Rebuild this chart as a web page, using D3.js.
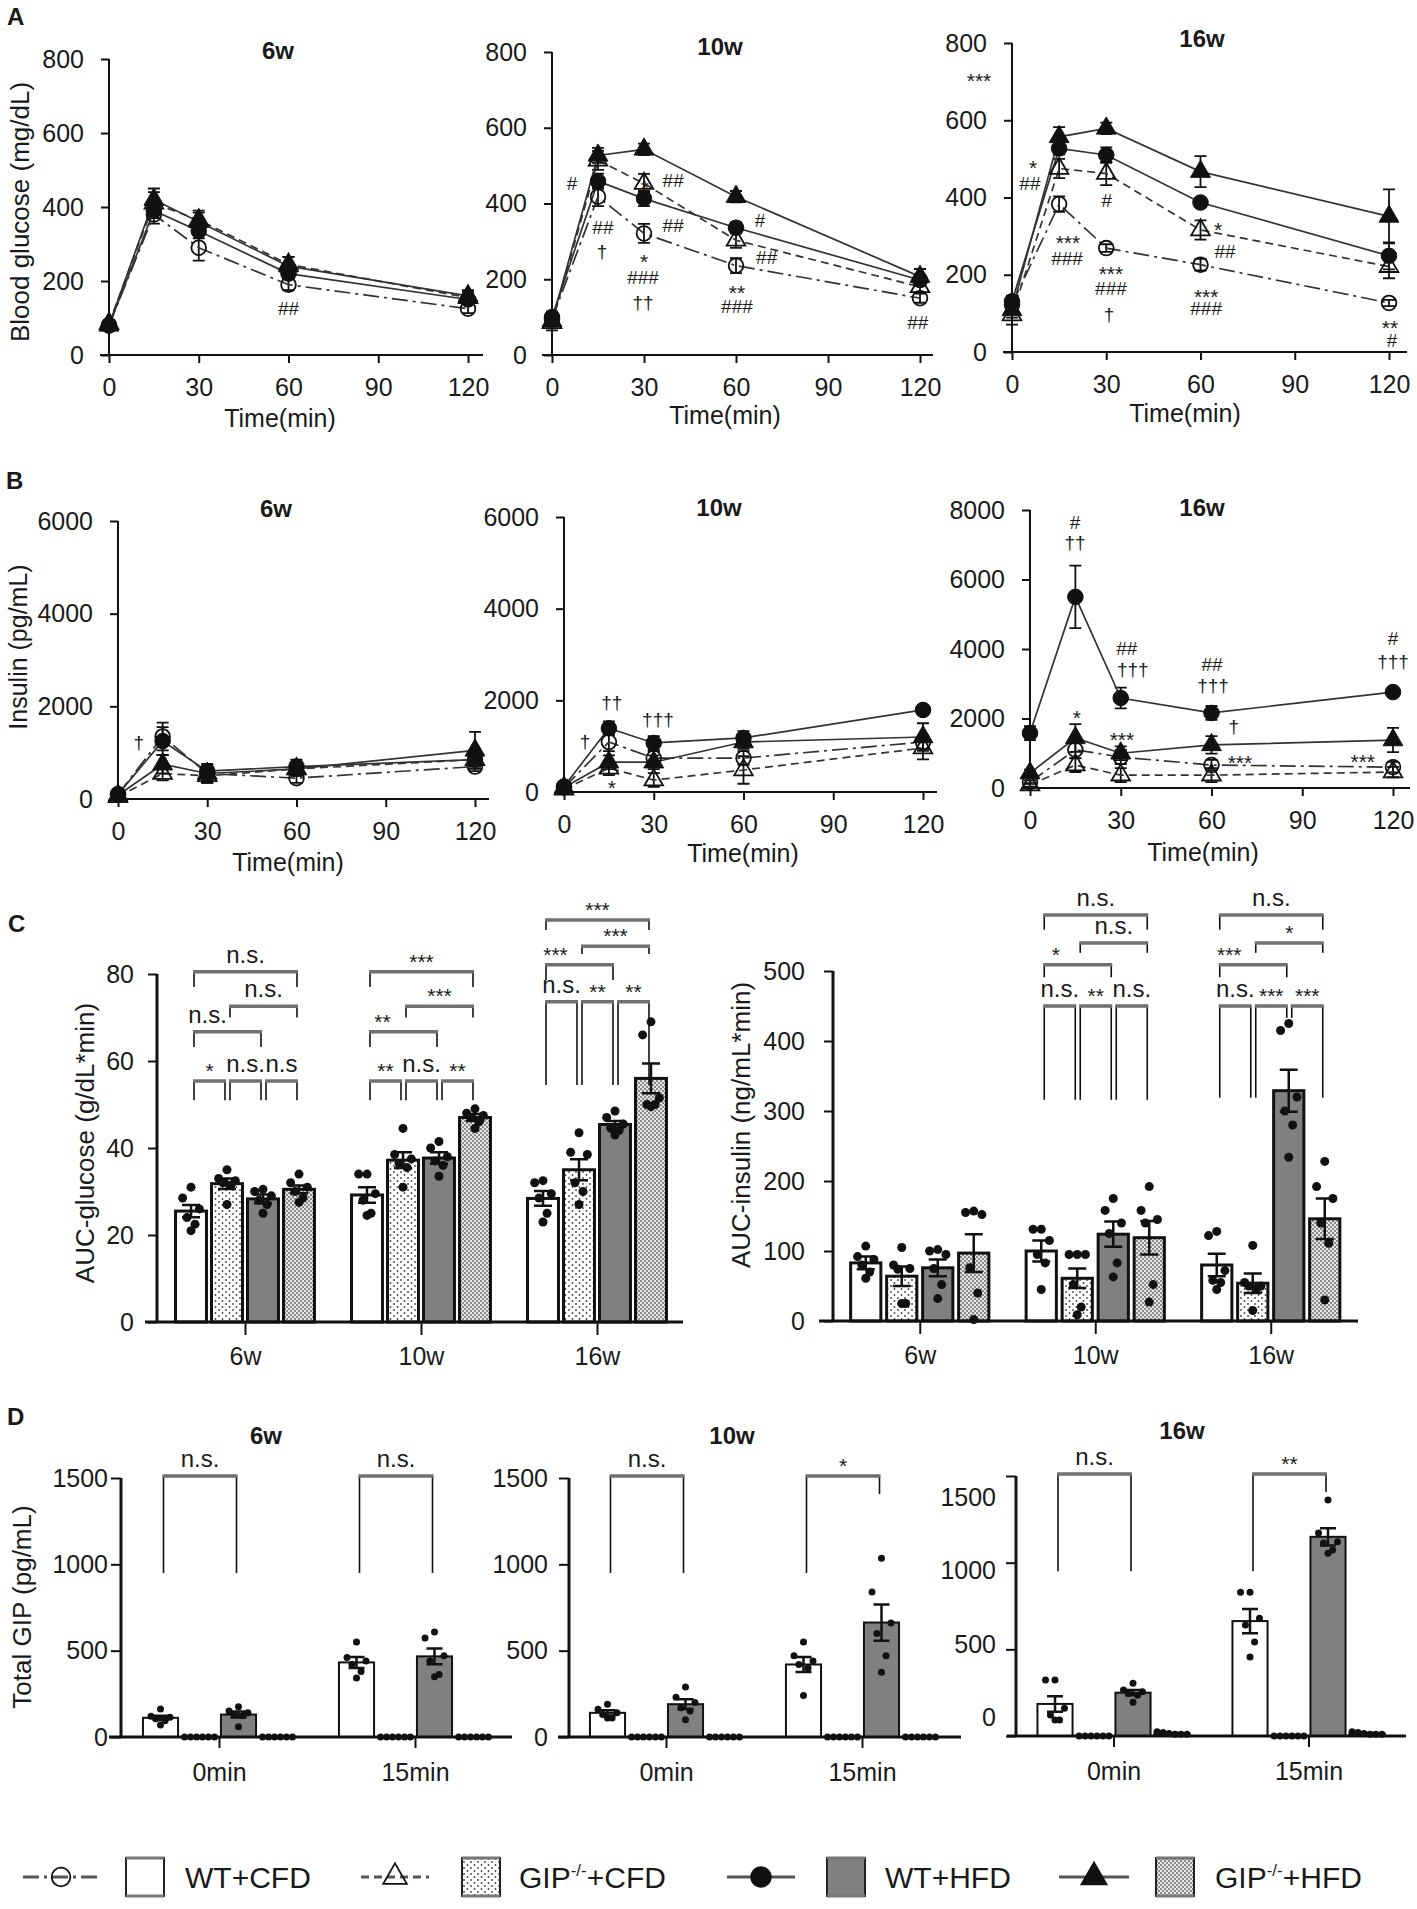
<!DOCTYPE html>
<html>
<head>
<meta charset="utf-8">
<script src="https://cdn.jsdelivr.net/npm/d3@7"></script>
<style>
  body { margin: 0; background: #fff; }
  svg { display: block; }
  text { font-family: "Liberation Sans", Arial, sans-serif; fill: #1a1a1a; }
</style>
</head>
<body>
<svg id="fig" width="1417" height="1909"></svg>
<script>
// ---- data ----
const times = [0, 15, 30, 60, 120];
const timeTicks = [0, 30, 60, 90, 120];
const groups = ["WT+CFD", "GIP-/-+CFD", "WT+HFD", "GIP-/-+HFD"];
const weeks = ["6w", "10w", "16w"];
const gipTimes = ["0min", "15min"];

// A: blood glucose (mg/dL), rows follow groups
const glu6 = [[80,380,290,190,125],[85,410,365,245,155],[80,390,335,220,150],[80,420,360,240,160]];
const glu6Sem = [[10,25,35,15,12],[10,30,25,20,15],[10,20,20,15,10],[10,30,25,25,15]];
const glu10 = [[95,418,321,236,150],[85,514,453,303,180],[100,459,413,336,198],[90,527,543,418,207]];
const glu10Sem = [[15,25,25,20,12],[20,25,25,20,15],[15,20,20,15,15],[15,20,15,15,20]];
const glu16 = [[123,383,269,226,127],[96,475,462,316,221],[131,527,510,387,249],[109,557,579,467,351]];
const glu16Sem = [[15,20,10,15,8],[25,25,30,25,30],[15,15,20,10,35],[20,25,15,40,70]];

// B: insulin (pg/mL)
const ins6 = [[100,1350,550,450,700],[50,550,500,650,850],[100,1250,600,700,850],[80,750,550,650,1050]];
const ins6Sem = [[50,300,200,100,100],[50,150,150,150,150],[50,300,150,150,150],[50,200,150,150,400]];
const ins10 = [[100,1090,740,740,1090],[60,520,260,480,960],[120,1390,1070,1180,1790],[100,650,650,1090,1200]];
const ins10Sem = [[50,200,150,150,150],[50,150,150,300,250],[50,150,150,150,100],[50,150,150,150,300]];
const ins16 = [[170,1100,890,660,600],[86,660,370,370,460],[1580,5500,2590,2160,2760],[430,1440,1000,1240,1380]];
const ins16Sem = [[50,250,200,150,150],[50,200,200,200,150],[200,900,300,200,100],[100,400,200,250,350]];

// significance marks: [time, value, text]
const gluNotes6 = [[60,127,"##"]];
const gluNotes10 = [[6.5,454,"#"],[39.5,462,"##"],[30.3,454,"*"],[16.6,338,"##"],[16.3,272,"†"],
  [39.5,343,"##"],[30,259,"*"],[29.7,206,"###"],[29.7,137,"††"],[67.8,356,"#"],[70,259,"##"],
  [60.3,177,"**"],[60.3,129,"###"],[119.3,87,"##"]];
const gluNotes16 = [[-10.5,715,"***"],[6.7,489,"*"],[5.7,438,"##"],[30.2,394,"#"],[17.8,295,"***"],
  [17.5,243,"###"],[31.5,215,"***"],[31.5,166,"###"],[30.9,96,"†"],[65.6,329,"*"],[67.8,261,"##"],
  [61.8,155,"***"],[61.8,114,"###"],[120.3,75,"**"],[121,31,"#"]];
const insNotes6 = [[7,1209,"†"]];
const insNotes10 = [[7,1091,"†"],[16,1942,"††"],[31.4,1571,"†††"],[16,196,"*"]];
const insNotes16 = [[14.9,7655,"#"],[14.9,7050,"††"],[15.5,2158,"*"],[32,4029,"##"],[34,3396,"†††"],
  [30.4,1525,"***"],[60.2,3568,"##"],[60.5,2935,"†††"],[67.4,1755,"†"],[69.4,863,"***"],
  [120,4317,"#"],[120,3626,"†††"],[110,892,"***"]];

// C: AUC glucose (g/dL*min), [week][group]
const aucGluMean = [[25.5,31.8,28.3,30.5],[29.2,37.2,37.7,47.0],[28.4,35.0,45.4,56.0]];
const aucGluSem = [[1.4,1.2,1.0,0.9],[1.8,1.8,1.3,0.8],[1.7,2.4,0.8,3.4]];
const aucGluPts = [
  [[31,28.5,26,24,22.5,21],[35,33,32.5,32,31.5,27],[30.5,30,29,28,27,25],[34,32,31,30,28.5,27.5]],
  [[34,34,29.5,28,25,24.5],[44.5,38.5,37.5,36.5,35.5,31],[41.5,40,38,37,36,33.5],[49,48,47.5,47,46,44.5]],
  [[32.5,32,29.5,28.5,25,23],[43.5,39,38.5,32,30,27],[48.5,47,45.5,44.5,44,43],[69,66,51.5,50,50,49.5]]
];
// C: AUC insulin (ng/mL*min)
const aucInsMean = [[83,64,76,97],[100,61,124,119],[80,54,329,146]];
const aucInsSem = [[9,14,12,27],[15,14,18,24],[16,14,30,29]];
const aucInsPts = [
  [[107,92,88,80,70,61],[105,80,75,74,25,25],[102,100,95,75,52,32],[157,155,152,76,40,2]],
  [[131,131,115,95,83,45],[95,95,95,52,20,9],[175,158,140,125,83,63],[192,158,145,140,52,27]],
  [[128,122,72,58,55,45],[108,55,50,50,46,15],[425,415,320,300,280,234],[228,192,175,140,111,30]]
];

// D: total GIP (pg/mL), [time][group]
const gip6Mean = [[111,0,130,0],[432,0,467,0]];
const gip6Sem = [[12,0,17,0],[32,0,45,0]];
const gip6Pts = [
  [[162,120,115,105,94,70],[0,0,0,0,0,0],[175,150,140,130,125,60],[0,0,0,0,0,0]],
  [[550,460,440,420,380,342],[0,0,0,0,0,0],[608,573,470,440,362,349],[0,0,0,0,0,0]]
];
const gip10Mean = [[140,0,190,0],[420,0,663,0]];
const gip10Sem = [[15,0,28,0],[44,0,105,0]];
const gip10Pts = [
  [[190,160,140,130,110,110],[0,0,0,0,0,0],[290,230,200,170,150,100],[0,0,0,0,0,0]],
  [[550,470,440,420,400,240],[0,0,0,0,0,0],[1035,840,660,600,470,375],[0,0,0,0,0,0]]
];
const gip16Mean = [[185,0,250,15],[663,0,1149,15]];
const gip16Sem = [[45,0,15,3],[70,0,50,3]];
const gip16Pts = [
  [[323,323,160,121,92,92],[0,0,0,0,0,0],[305,265,255,245,235,195],[10,25,15,20,10,10]],
  [[830,830,680,640,542,456],[0,0,0,0,0,0],[1362,1171,1120,1113,1073,1055],[10,25,15,20,10,10]]
];

// ---- drawing ----
const svg = d3.select("#fig");
svg.append("rect").attr("width", 1417).attr("height", 1909).attr("fill", "#fff");

const defs = svg.append("defs");
const dots = defs.append("pattern").attr("id", "dots").attr("patternUnits", "userSpaceOnUse")
  .attr("width", 7).attr("height", 6);
dots.append("rect").attr("width", 7).attr("height", 6).attr("fill", "#fff");
dots.append("circle").attr("cx", 2).attr("cy", 2).attr("r", 0.9).attr("fill", "#444");
dots.append("circle").attr("cx", 5.5).attr("cy", 5).attr("r", 0.9).attr("fill", "#444");
const checks = defs.append("pattern").attr("id", "checks").attr("patternUnits", "userSpaceOnUse")
  .attr("width", 4).attr("height", 4);
checks.append("rect").attr("width", 4).attr("height", 4).attr("fill", "#e6e6e6");
checks.append("rect").attr("width", 2).attr("height", 2).attr("fill", "#8a8a8a");
checks.append("rect").attr("x", 2).attr("y", 2).attr("width", 2).attr("height", 2).attr("fill", "#8a8a8a");

const groupFill = ["#fff", "url(#dots)", "#808080", "url(#checks)"];
const lineStyle = [
  { dash: "16,5,3,5", sym: d3.symbolCircle, size: 170, filled: false },
  { dash: "8,5", sym: d3.symbolTriangle, size: 150, filled: false },
  { dash: null, sym: d3.symbolCircle, size: 190, filled: true },
  { dash: null, sym: d3.symbolTriangle, size: 170, filled: true }
];

// text placed by the centre of its glyphs
function addText(g, x, cy, str, size, bold, anchor) {
  let k = 0.36;
  if (/^\*+$/.test(str)) k = 0.58;
  else if (str.startsWith("n.s")) k = 0.26;
  else if (str.startsWith("†")) k = 0.30;
  const t = g.append("text").attr("x", x).attr("y", cy + k * size).attr("font-size", size)
    .attr("text-anchor", anchor || "middle").text(str);
  if (bold) t.attr("font-weight", "bold");
  return t;
}
function yLabel(g, x, cy, str, size) {
  g.append("text").attr("transform", `translate(${x},${cy}) rotate(-90)`)
    .attr("text-anchor", "middle").attr("dominant-baseline", "central")
    .attr("font-size", size).text(str);
}
function styleAxis(a, fs) {
  a.select(".domain").remove();
  a.selectAll(".tick line").attr("stroke", "#111").attr("stroke-width", 2);
  a.selectAll(".tick text").attr("font-size", fs).attr("fill", "#1a1a1a");
}
function hline(g, x1, x2, y, w, c) {
  g.append("line").attr("x1", x1).attr("x2", x2).attr("y1", y).attr("y2", y)
    .attr("stroke", c || "#111").attr("stroke-width", w);
}
function vline(g, x, y1, y2, w, c) {
  g.append("line").attr("x1", x).attr("x2", x).attr("y1", y1).attr("y2", y2)
    .attr("stroke", c || "#111").attr("stroke-width", w);
}

function linePanel(p, means, sems, notes) {
  const g = svg.append("g");
  const x = d3.scaleLinear().domain([0, 120]).range([p.left, p.right]);
  const y = d3.scaleLinear().domain([0, p.ymax]).range([p.bottom, p.top]);

  const ya = g.append("g").attr("transform", `translate(${p.left},0)`)
    .call(d3.axisLeft(y).tickValues(p.yticks).tickSize(8).tickPadding(17).tickFormat(d3.format("d")));
  styleAxis(ya, 25);
  vline(g, p.left, p.top, p.bottom, 2);
  const xa = g.append("g").attr("transform", `translate(0,${p.bottom})`)
    .call(d3.axisBottom(x).tickValues(timeTicks).tickSize(8).tickPadding(15));
  styleAxis(xa, 25);
  hline(g, p.xl, p.xr, p.bottom, 2);

  addText(g, p.tx, p.ty, p.title, 24, true);
  addText(g, p.lx, p.ly, "Time(min)", 25);

  const line = d3.line().x((d, i) => x(times[i])).y(d => y(d));
  means.forEach((ser, si) => {
    ser.forEach((v, i) => {
      const e = sems[si][i], cx = x(times[i]);
      g.append("path")
        .attr("d", `M${cx},${y(v - e)}V${y(v + e)}M${cx - 6},${y(v + e)}H${cx + 6}M${cx - 6},${y(v - e)}H${cx + 6}`)
        .attr("stroke", "#111").attr("stroke-width", 1.8).attr("fill", "none");
    });
    g.append("path").datum(ser).attr("d", line).attr("fill", "none")
      .attr("stroke", "#333").attr("stroke-width", 1.7)
      .attr("stroke-dasharray", lineStyle[si].dash);
  });
  means.forEach((ser, si) => {
    const st = lineStyle[si];
    g.selectAll(null).data(ser).join("path")
      .attr("transform", (d, i) => `translate(${x(times[i])},${y(d)})`)
      .attr("d", d3.symbol().type(st.sym).size(st.size))
      .attr("fill", st.filled ? "#111" : "none")
      .attr("stroke", "#111").attr("stroke-width", st.filled ? 1 : 1.8);
  });
  notes.forEach(([t, v, s]) => addText(g, x(t), y(v), s, /\*/.test(s) ? 21 : 19));
  return g;
}

function barPanel(p, means, sems, pts, brackets) {
  const g = svg.append("g");
  const x0 = d3.scaleBand().domain(p.cats).range([p.bl, p.br]);
  const bw0 = x0.bandwidth();
  const x1 = d3.scaleBand().domain(groups).range([bw0 / 2 - p.half, bw0 / 2 + p.half])
    .paddingInner(p.pin).paddingOuter(p.pin / 2);
  const y = d3.scaleLinear().domain([0, p.ymax]).range([p.bottom, p.top]);
  const w = x1.bandwidth();
  const cen = (ci, gi) => x0(p.cats[ci]) + x1(groups[gi]) + w / 2;

  // y axis
  const ya = g.append("g").attr("transform", `translate(${p.ax},0)`)
    .call(d3.axisLeft(y).tickValues(p.yticks).tickSize(p.tick || 9).tickPadding(p.pad)
      .tickFormat(p.labelRange ? "" : d3.format("d")));
  styleAxis(ya, 25);
  vline(g, p.ax, p.top, p.bottom, 3);
  if (p.labelRange) {
    const yl = d3.scaleLinear().domain([0, p.ymax]).range(p.labelRange);
    p.yticks.forEach(v => addText(g, p.ax - (p.tick || 9) - p.pad, yl(v), String(v), 25, false, "end"));
  }

  // bars, error bars, points
  p.cats.forEach((c, ci) => groups.forEach((gr, gi) => {
    const v = means[ci][gi], e = sems[ci][gi], cx = cen(ci, gi);
    if (v > 0) {
      g.append("rect").attr("x", cx - w / 2).attr("y", y(v)).attr("width", w)
        .attr("height", y(0) - y(v)).attr("fill", groupFill[gi])
        .attr("stroke", "#111").attr("stroke-width", p.sw);
    }
    const vals = pts[ci][gi].slice().sort((a, b) => b - a);
    const flat = d3.max(vals) < 30;
    const offs = flat ? vals.map((d, i) => (i - 2.5) / 5 * w * 0.85)
                      : [0, -0.27, 0.27, -0.13, 0.13, 0].map(k => k * w);
    g.selectAll(null).data(vals).join("circle")
      .attr("cx", (d, i) => cx + offs[i]).attr("cy", d => y(d))
      .attr("r", p.r).attr("fill", "#111");
    if (e > 0) {
      const cw = p.cap;
      g.append("path")
        .attr("d", `M${cx},${y(v - e)}V${y(v + e)}M${cx - cw},${y(v + e)}H${cx + cw}M${cx - cw},${y(v - e)}H${cx + cw}`)
        .attr("stroke", "#111").attr("stroke-width", 2.5).attr("fill", "none");
    }
  }));

  // x axis
  const xa = g.append("g").attr("transform", `translate(0,${p.bottom})`)
    .call(d3.axisBottom(d3.scalePoint().domain(p.cats).range([x0(p.cats[0]) + bw0 / 2, x0(p.cats[p.cats.length - 1]) + bw0 / 2]))
      .tickSize(p.xtick).tickPadding(p.xpad));
  styleAxis(xa, 25);
  hline(g, p.axisX[0], p.axisX[1], p.bottom, 3);

  // significance brackets
  brackets.forEach(b => {
    const x1b = cen(b.c, b.a) + 3, x2b = cen(b.c, b.b) - 2, yb = y(b.y);
    vline(g, x1b, yb, y(b.l1), 1.6);
    vline(g, x2b, yb, y(b.l2 !== undefined ? b.l2 : b.l1), 1.6);
    hline(g, x1b - 1, x2b + 1, yb, 3.5, "#707070");
    addText(g, (x1b + x2b) / 2 + (b.dx || 0), yb - 15, b.t, /\*/.test(b.t) ? 21 : 24);
  });

  if (p.ylab) yLabel(g, p.ylx, p.yly, p.ylab, 26);
  if (p.title) addText(g, p.tx, p.ty, p.title, 24, true);
  return g;
}

// ---- panel A ----
const A = svg.append("g");
addText(A, 7, 16, "A", 24, true, "start");
yLabel(A, 20, 212, "Blood glucose (mg/dL)", 26);
linePanel({ left: 109, right: 468, top: 59, bottom: 355, ymax: 800, yticks: [0, 200, 400, 600, 800],
  xl: 100, xr: 483, title: "6w", tx: 278, ty: 50, lx: 280, ly: 418 }, glu6, glu6Sem, gluNotes6);
linePanel({ left: 552, right: 920, top: 52, bottom: 355, ymax: 800, yticks: [0, 200, 400, 600, 800],
  xl: 542, xr: 933, title: "10w", tx: 720, ty: 46, lx: 725, ly: 415 }, glu10, glu10Sem, gluNotes10);
linePanel({ left: 1012, right: 1389, top: 43, bottom: 352, ymax: 800, yticks: [0, 200, 400, 600, 800],
  xl: 1003, xr: 1407, title: "16w", tx: 1202, ty: 38, lx: 1185, ly: 413 }, glu16, glu16Sem, gluNotes16);

// ---- panel B ----
const B = svg.append("g");
addText(B, 6, 480, "B", 24, true, "start");
yLabel(B, 18, 647, "Insulin  (pg/mL)", 25);
linePanel({ left: 118, right: 475, top: 521, bottom: 799, ymax: 6000, yticks: [0, 2000, 4000, 6000],
  xl: 112, xr: 489, title: "6w", tx: 276, ty: 508, lx: 288, ly: 862 }, ins6, ins6Sem, insNotes6);
linePanel({ left: 564, right: 923, top: 517, bottom: 792, ymax: 6000, yticks: [0, 2000, 4000, 6000],
  xl: 555, xr: 937, title: "10w", tx: 719, ty: 507, lx: 743, ly: 853 }, ins10, ins10Sem, insNotes10);
linePanel({ left: 1030, right: 1393, top: 510, bottom: 788, ymax: 8000, yticks: [0, 2000, 4000, 6000, 8000],
  xl: 1022, xr: 1410, title: "16w", tx: 1202, ty: 507, lx: 1203, ly: 852 }, ins16, ins16Sem, insNotes16);

// ---- panel C ----
const C = svg.append("g");
addText(C, 8, 923, "C", 24, true, "start");
function cBrackets(levels, labels, dxs, legsOverride) {
  const out = [];
  labels.forEach((labs, ci) => {
    const L = levels[ci];
    const pairs = [[0, 3], [1, 3], [0, 2], [0, 1], [1, 2], [2, 3]];
    pairs.forEach(([a, b], k) => {
      const row = Math.min(k, 3);
      const br = { c: ci, a, b, y: L[row][0], l1: L[row][1], t: labs[k], dx: k === 2 ? dxs[ci] : 0 };
      if (legsOverride && legsOverride[ci] && legsOverride[ci][k]) Object.assign(br, legsOverride[ci][k]);
      out.push(br);
    });
  });
  return out;
}
const gluLevels = [
  [[80.5, 77], [72.6, 70], [66.7, 63.2], [55.4, 51]],
  [[80.5, 77], [72.6, 70], [66.7, 63.2], [55.4, 51]],
  [[92.4, 90.1], [86.4, 84.6], [82.1, 78.6], [73.6, 54.5]]
];
const gluLabels = [
  ["n.s.", "n.s.", "n.s.", "*", "n.s.", "n.s"],
  ["***", "***", "**", "**", "n.s.", "**"],
  ["***", "***", "***", "n.s.", "**", "**"]
];
barPanel({ cats: weeks, bl: 157, br: 685, half: 72, pin: 0.14, ax: 157, top: 974, bottom: 1322,
  ymax: 80, yticks: [0, 20, 40, 60, 80], pad: 14, axisX: [145, 683], xtick: 13, xpad: 12,
  sw: 3, r: 4.5, cap: 9, ylab: "AUC-glucose  (g/dL*min)", ylx: 85, yly: 1143 },
  aucGluMean, aucGluSem, aucGluPts,
  cBrackets(gluLevels, gluLabels, [-20, -21, -24]).filter(b => b.t));

const insLevels = [
  [[580, 559], [540, 526], [509, 491], [450, 316]],
  [[580, 559], [540, 526], [509, 491], [450, 316]],
  [[580, 559], [540, 526], [509, 491], [450, 319]]
];
const insLabels = [
  [null, null, null, null, null, null],
  ["n.s.", "n.s.", "*", "n.s.", "**", "n.s."],
  ["n.s.", "*", "***", "n.s.", "***", "***"]
];
barPanel({ cats: weeks, bl: 832, br: 1358.5, half: 72, pin: 0.16, ax: 833, top: 971, bottom: 1321,
  ymax: 500, yticks: [0, 100, 200, 300, 400, 500], pad: 19, axisX: [819, 1358], xtick: 13, xpad: 12,
  sw: 3, r: 4.5, cap: 9, ylab: "AUC-insulin  (ng/mL*min)", ylx: 741, yly: 1125 },
  aucInsMean, aucInsSem, aucInsPts,
  cBrackets(insLevels, insLabels, [0, -22, -24], [null, null, { 4: { l2: 433 }, 5: { l1: 433, l2: 319 } }])
    .filter(b => b.t));

// ---- panel D ----
const D = svg.append("g");
addText(D, 7, 1416, "D", 24, true, "start");
yLabel(D, 22, 1607, "Total GIP  (pg/mL)", 26);
const gipBr = (tags, legs) => [
  { c: 0, a: 0, b: 2, y: 1511, l1: 950, t: tags[0] },
  { c: 1, a: 0, b: 2, y: 1511, l1: 950, l2: legs, t: tags[1] }
];
const dBase = { cats: gipTimes, half: 78, pin: 0.1, ymax: 1500, yticks: [0, 500, 1000, 1500],
  tick: 10, xtick: 11, xpad: 15, sw: 2, r: 3.5, cap: 8 };
barPanel(Object.assign({}, dBase, { bl: 121, br: 513, ax: 121, top: 1478, bottom: 1737, pad: 3,
  axisX: [109, 512], title: "6w", tx: 266, ty: 1435 }),
  gip6Mean, gip6Sem, gip6Pts, gipBr(["n.s.", "n.s."], 950));
barPanel(Object.assign({}, dBase, { bl: 568, br: 960, ax: 569, top: 1478, bottom: 1737, pad: 11,
  axisX: [558, 961], title: "10w", tx: 732, ty: 1435 }),
  gip10Mean, gip10Sem, gip10Pts, gipBr(["n.s.", "*"], 1407));
barPanel(Object.assign({}, dBase, { bl: 1016, br: 1406, ax: 1016, top: 1476, bottom: 1736, pad: 10,
  labelRange: [1717, 1497], axisX: [1007, 1406], title: "16w", tx: 1182, ty: 1430 }),
  gip16Mean, gip16Sem, gip16Pts, gipBr(["n.s.", "**"], 1407));

// ---- legend ----
const lg = svg.append("g");
const legY = 1877;
const legItems = [
  { lx: [23, 99], box: 126, tx: 185 },
  { lx: [361, 429], box: 462, tx: 519 },
  { lx: [727, 795], box: 827, tx: 885 },
  { lx: [1059, 1129], box: 1156, tx: 1215 }
];
legItems.forEach((it, i) => {
  const st = lineStyle[i];
  lg.append("line").attr("x1", it.lx[0]).attr("x2", it.lx[1]).attr("y1", legY).attr("y2", legY)
    .attr("stroke", "#555").attr("stroke-width", 3).attr("stroke-dasharray", st.dash);
  lg.append("path").attr("transform", `translate(${(it.lx[0] + it.lx[1]) / 2},${legY})`)
    .attr("d", d3.symbol().type(st.sym).size(st.size * 1.6))
    .attr("fill", st.filled ? "#111" : "none").attr("stroke", "#111").attr("stroke-width", 1.8);
  lg.append("rect").attr("x", it.box).attr("y", legY - 19).attr("width", 38).attr("height", 38)
    .attr("fill", groupFill[i]).attr("stroke", "#222").attr("stroke-width", 2);
  hline(lg, it.box, it.box + 38, legY - 19, 3, "#777");
  hline(lg, it.box, it.box + 38, legY + 19, 3, "#777");
  const name = groups[i];
  const t = lg.append("text").attr("x", it.tx).attr("y", legY + 11).attr("font-size", 30);
  if (name.startsWith("GIP")) {
    t.append("tspan").text("GIP");
    t.append("tspan").attr("font-size", 17).attr("dy", -12).text("-/-");
    t.append("tspan").attr("font-size", 30).attr("dy", 12).text(name.slice(6));
  } else {
    t.text(name);
  }
});
</script>
</body>
</html>
